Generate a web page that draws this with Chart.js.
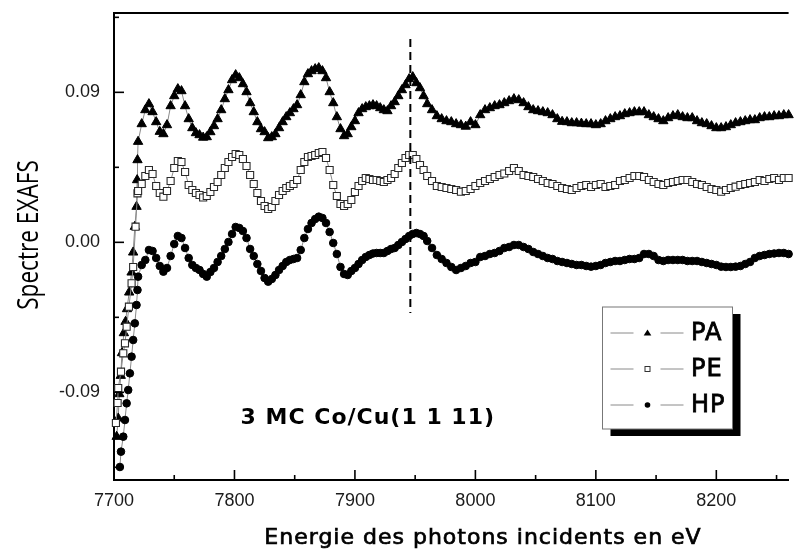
<!DOCTYPE html>
<html>
<head>
<meta charset="utf-8">
<script src="https://cdn.jsdelivr.net/npm/chart.js@4.4.1/dist/chart.umd.min.js"></script>
<style>
  html, body { margin:0; padding:0; background:#fff; }
  #wrap { width:795px; height:551px; }
</style>
</head>
<body>
<div id="wrap"><canvas id="c" width="795" height="551"></canvas></div>
<script>
/* EXAFS spectra, 3 MC Co/Cu(1 1 11) */

// ---- data (energies in eV, spectrum in arbitrary EXAFS units)
const gridEnergy = [
  7720,7723,7726,7729,7732,7735,7738,7741,7744,7747,
  7750,7753,7756,7759,7762,7765,7768,7771,7774,7777,
  7780,7783,7786,7789,7792,7795,7798,7801,7804,7807,
  7810,7813,7816,7819,7822,7825,7828,7831,7834,7837,
  7840,7843,7846,7849,7852,7855,7858,7861,7864,7867,
  7870,7873,7876,7879,7882,7885,7888,7891,7894,7897,
  7900,7903,7906,7909,7912,7915,7918,7921,7924,7927,
  7930,7933,7936,7939,7942,7945,7948,7951,7954,7957,
  7960,
  7964,7968,7972,7976,7980,7984,7988,7992,7996,8000,
  8004,8008,8012,8016,8020,8024,8028,8032,8036,8040,
  8044,8048,8052,8056,8060,8064,8068,8072,8076,8080,
  8084,8088,8092,8096,8100,8104,8108,8112,8116,8120,
  8124,8128,8132,8136,8140,8144,8148,8152,8156,8160,
  8164,8168,8172,8176,8180,8184,8188,8192,8196,8200,
  8204,8208,8212,8216,8220,8224,8228,8232,8236,8240,
  8244,8248,8252,8256,8260
];

// absorption edge (each series read separately)
const paEdgeEnergy = [7702.2,7703.5,7704.4,7705.6,7706.6,7708.2,7709.6,7710.8,7712.6,7714.6,7715.9,7717.3,7718.7,7719.2,7719.5];
const paEdge       = [-0.1166,-0.1056,-0.0910,-0.0800,-0.0664,-0.0544,-0.0476,-0.0400,-0.0300,-0.0180,-0.0060,0.0094,0.0214,0.0374,0.0494];
const peEdgeEnergy = [7701.6,7703.0,7703.5,7705.8,7707.7,7709.1,7710.5,7712.4,7714.6,7715.9,7717.9,7719.5];
const peEdge       = [-0.1084,-0.0964,-0.0874,-0.0776,-0.0666,-0.0606,-0.0506,-0.0386,-0.0246,-0.0148,0.0094,0.0294];
const hpEdgeEnergy = [7704.9,7705.8,7707.7,7709.1,7710.5,7711.8,7713.2,7714.6,7715.9,7717.3,7718.7,7719.5];
const hpEdge       = [-0.1348,-0.1256,-0.1166,-0.1066,-0.0966,-0.0886,-0.0786,-0.0686,-0.0586,-0.0486,-0.0376,-0.0286];

const paValues = [
  0.0604,0.0710,0.0794,0.0830,0.0782,0.0722,0.0664,0.0650,0.0704,0.0818,
  0.0878,0.0920,0.0908,0.0818,0.0740,0.0686,0.0656,0.0644,0.0629,0.0632,
  0.0662,0.0698,0.0740,0.0794,0.0860,0.0914,0.0974,0.1004,0.0986,0.0950,
  0.0902,0.0836,0.0782,0.0722,0.0680,0.0662,0.0626,0.0632,0.0650,0.0686,
  0.0722,0.0752,0.0776,0.0800,0.0824,0.0884,0.0962,0.1010,0.1028,0.1040,
  0.1046,0.1028,0.0986,0.0902,0.0836,0.0752,0.0680,0.0638,0.0650,0.0692,
  0.0728,0.0776,0.0800,0.0812,0.0818,0.0824,0.0818,0.0806,0.0794,0.0788,
  0.0818,0.0842,0.0878,0.0914,0.0944,0.0980,0.0992,0.0956,0.0926,0.0878,
  0.0830,
  0.0794,0.0758,0.0740,0.0728,0.0722,0.0710,0.0704,0.0695,0.0722,0.0704,
  0.0764,0.0794,0.0806,0.0818,0.0824,0.0836,0.0848,0.0860,0.0854,0.0836,
  0.0812,0.0794,0.0788,0.0782,0.0776,0.0764,0.0740,0.0724,0.0722,0.0716,
  0.0716,0.0713,0.0710,0.0710,0.0704,0.0710,0.0728,0.0740,0.0752,0.0758,
  0.0770,0.0776,0.0782,0.0782,0.0782,0.0764,0.0752,0.0740,0.0728,0.0746,
  0.0758,0.0764,0.0752,0.0746,0.0746,0.0728,0.0716,0.0710,0.0698,0.0686,
  0.0686,0.0692,0.0704,0.0716,0.0722,0.0728,0.0734,0.0734,0.0746,0.0752,
  0.0752,0.0758,0.0758,0.0764,0.0764
];

const peValues = [
  0.0308,0.0350,0.0398,0.0434,0.0410,0.0338,0.0296,0.0274,0.0308,0.0368,
  0.0446,0.0488,0.0482,0.0422,0.0344,0.0314,0.0296,0.0284,0.0269,0.0278,
  0.0302,0.0332,0.0362,0.0404,0.0446,0.0482,0.0512,0.0530,0.0524,0.0500,
  0.0458,0.0404,0.0350,0.0296,0.0248,0.0218,0.0200,0.0212,0.0248,0.0284,
  0.0308,0.0326,0.0338,0.0350,0.0374,0.0434,0.0482,0.0512,0.0518,0.0524,
  0.0536,0.0542,0.0506,0.0434,0.0344,0.0278,0.0230,0.0218,0.0230,0.0254,
  0.0302,0.0338,0.0368,0.0386,0.0380,0.0374,0.0374,0.0368,0.0362,0.0374,
  0.0386,0.0410,0.0446,0.0476,0.0506,0.0524,0.0524,0.0500,0.0464,0.0434,
  0.0398,
  0.0368,0.0338,0.0332,0.0326,0.0320,0.0314,0.0304,0.0308,0.0320,0.0338,
  0.0356,0.0368,0.0380,0.0392,0.0404,0.0413,0.0428,0.0446,0.0428,0.0404,
  0.0398,0.0392,0.0380,0.0368,0.0356,0.0350,0.0338,0.0326,0.0320,0.0314,
  0.0326,0.0338,0.0344,0.0332,0.0344,0.0350,0.0332,0.0338,0.0344,0.0368,
  0.0374,0.0386,0.0398,0.0398,0.0392,0.0374,0.0362,0.0350,0.0344,0.0356,
  0.0362,0.0368,0.0374,0.0374,0.0362,0.0350,0.0344,0.0332,0.0320,0.0314,
  0.0304,0.0314,0.0326,0.0334,0.0344,0.0350,0.0356,0.0362,0.0374,0.0368,
  0.0380,0.0386,0.0374,0.0386,0.0386
];

const hpValues = [
  -0.0206,-0.0136,-0.0106,-0.0046,-0.0052,-0.0094,-0.0142,-0.0176,-0.0154,-0.0082,
  -0.0010,0.0038,0.0026,-0.0034,-0.0094,-0.0136,-0.0154,-0.0166,-0.0190,-0.0206,
  -0.0178,-0.0154,-0.0118,-0.0082,-0.0040,0.0002,0.0050,0.0092,0.0086,0.0068,
  0.0026,-0.0040,-0.0082,-0.0130,-0.0172,-0.0214,-0.0236,-0.0220,-0.0196,-0.0166,
  -0.0142,-0.0118,-0.0106,-0.0100,-0.0094,-0.0046,0.0026,0.0080,0.0116,0.0140,
  0.0154,0.0146,0.0116,0.0062,-0.0004,-0.0070,-0.0148,-0.0190,-0.0196,-0.0172,
  -0.0154,-0.0130,-0.0106,-0.0088,-0.0076,-0.0067,-0.0064,-0.0064,-0.0064,-0.0052,
  -0.0040,-0.0034,-0.0016,0.0002,0.0020,0.0038,0.0050,0.0056,0.0050,0.0038,
  0.0008,
  -0.0034,-0.0076,-0.0100,-0.0124,-0.0148,-0.0166,-0.0154,-0.0142,-0.0124,-0.0118,
  -0.0088,-0.0082,-0.0070,-0.0064,-0.0052,-0.0034,-0.0028,-0.0016,-0.0016,-0.0028,
  -0.0040,-0.0058,-0.0070,-0.0082,-0.0094,-0.0100,-0.0112,-0.0118,-0.0124,-0.0130,
  -0.0136,-0.0136,-0.0142,-0.0146,-0.0142,-0.0136,-0.0124,-0.0118,-0.0112,-0.0112,
  -0.0106,-0.0100,-0.0100,-0.0094,-0.0070,-0.0070,-0.0082,-0.0106,-0.0112,-0.0106,
  -0.0106,-0.0106,-0.0106,-0.0112,-0.0112,-0.0112,-0.0118,-0.0124,-0.0130,-0.0136,
  -0.0146,-0.0148,-0.0148,-0.0146,-0.0142,-0.0130,-0.0118,-0.0094,-0.0082,-0.0076,
  -0.0070,-0.0067,-0.0064,-0.0064,-0.0070
];

// dashed marker line at the 2nd edge feature
const markerEnergy = 7946;
const markerRange  = [0.122, -0.0424];

// axes
const xRange = [7700, 8260];
const yRange = [-0.1426, 0.1376];
const xMajorTicks = [7700, 7800, 7900, 8000, 8100, 8200];
const xMinorTicks = [7750, 7850, 7950, 8050, 8150, 8250];
const yMajorTicks = [-0.09, 0.00, 0.09];
const yMinorTicks = [-0.135, -0.045, 0.045, 0.135];

const seriesNames = ['PA', 'PE', 'HP'];
const sampleLabel = '3 MC Co/Cu(1 1 11)';

const pts = (es, vs) => es.map((e, i) => ({x: e, y: vs[i]}));

const HAND = '"DejaVu Sans", sans-serif';
const LINE_GREY = '#8a8a8a';

function seriesStyle(kind){
  if(kind === 'PA') return {pointStyle:'triangle', pointRadius:5.4, pointBackgroundColor:'#000', pointBorderColor:'#000', pointBorderWidth:1};
  if(kind === 'PE') return {pointStyle:'rect', pointRadius:5, pointBackgroundColor:'#fff', pointBorderColor:'#2a2a2a', pointBorderWidth:1.1};
  return {pointStyle:'circle', pointRadius:3.8, pointBackgroundColor:'#000', pointBorderColor:'#000', pointBorderWidth:1};
}

function makeSeries(kind, edgeE, edgeV, vals){
  return Object.assign({
    label: kind,
    data: pts(edgeE, edgeV).concat(pts(gridEnergy, vals)),
    showLine: true,
    borderColor: LINE_GREY,
    borderWidth: 1,
    clip: 6,
  }, seriesStyle(kind));
}

function seg(ctx, x1, y1, x2, y2){ ctx.beginPath(); ctx.moveTo(x1, y1); ctx.lineTo(x2, y2); ctx.stroke(); }

// slightly heavier text, closer to the original marker-pen look
function heavyText(ctx, txt, x, y, w){
  ctx.fillText(txt, x, y);
  ctx.save(); ctx.lineWidth = w; ctx.strokeStyle = ctx.fillStyle; ctx.strokeText(txt, x, y); ctx.restore();
}

function legendMarker(ctx, kind, x, y){
  ctx.save();
  if(kind === 'PA'){
    ctx.fillStyle = '#000';
    ctx.beginPath(); ctx.moveTo(x, y-3.5); ctx.lineTo(x+3.8, y+2.5); ctx.lineTo(x-3.8, y+2.5); ctx.closePath(); ctx.fill();
  } else if(kind === 'PE'){
    ctx.fillStyle = '#fff'; ctx.strokeStyle = '#333'; ctx.lineWidth = 1;
    ctx.fillRect(x-3, y-3, 6, 6); ctx.strokeRect(x-2.5, y-2.5, 5, 5);
  } else {
    ctx.fillStyle = '#000';
    ctx.beginPath(); ctx.arc(x, y, 2.8, 0, Math.PI*2); ctx.fill();
  }
  ctx.restore();
}

const decor = {
  id: 'decor',
  afterDraw(chart){
    const {ctx, chartArea:a, scales:{x, y}} = chart;
    ctx.save();
    ctx.strokeStyle = '#000';

    // top frame line
    ctx.lineWidth = 2;
    seg(ctx, a.left, a.top, a.right, a.top);

    // inward ticks
    ctx.lineWidth = 1.6;
    xMajorTicks.forEach(v => { const p = x.getPixelForValue(v); seg(ctx, p, a.bottom, p, a.bottom - 10); });
    xMinorTicks.forEach(v => { const p = x.getPixelForValue(v); seg(ctx, p, a.bottom, p, a.bottom - 5); });
    yMajorTicks.forEach(v => { const p = y.getPixelForValue(v); seg(ctx, a.left, p, a.left + 10, p); });
    yMinorTicks.forEach(v => { const p = y.getPixelForValue(v); seg(ctx, a.left, p, a.left + 5, p); });

    // axis titles
    ctx.fillStyle = '#000';
    ctx.textAlign = 'center';
    ctx.textBaseline = 'middle';
    ctx.font = '22px ' + HAND;
    ctx.letterSpacing = '1px';
    heavyText(ctx, 'Energie des photons incidents en eV', 483, 538, 0.7);
    ctx.letterSpacing = '0px';

    ctx.save();
    ctx.translate(30, 235);
    ctx.rotate(-Math.PI/2);
    ctx.scale(0.78, 1);
    ctx.font = '29px "Open Sans", ' + HAND;
    ctx.fillText('Spectre EXAFS', 0, 0);
    ctx.restore();

    // sample label
    ctx.font = 'bold 22px ' + HAND;
    ctx.letterSpacing = '1px';
    ctx.fillText(sampleLabel, x.getPixelForValue(7910.7), y.getPixelForValue(-0.1054));
    ctx.letterSpacing = '0px';

    // legend box with drop shadow
    const bx = 602.5, by = 307, bw = 130, bh = 122;
    ctx.fillStyle = '#000';
    ctx.fillRect(bx + 8, by + 7, bw, bh);
    ctx.fillStyle = '#fff';
    ctx.fillRect(bx, by, bw, bh);
    ctx.strokeStyle = '#777';
    ctx.lineWidth = 1;
    ctx.strokeRect(bx, by, bw, bh);

    ctx.font = '24px ' + HAND;
    ctx.letterSpacing = '1px';
    ctx.textAlign = 'left';
    seriesNames.forEach((name, i) => {
      const ry = 333 + i * 36;
      ctx.strokeStyle = LINE_GREY; ctx.lineWidth = 1;
      seg(ctx, 610.5, ry, 633.5, ry);
      seg(ctx, 660.5, ry, 683.5, ry);
      legendMarker(ctx, name, 647.5, ry);
      ctx.fillStyle = '#000';
      heavyText(ctx, name, 691, ry + 1, 0.8);
    });
    ctx.letterSpacing = '0px';
    ctx.restore();
  }
};

const TICK_FONT = { family: '"Liberation Sans", Arial, sans-serif', size: 18 };

const ctx = document.getElementById('c').getContext('2d');
new Chart(ctx, {
  type: 'scatter',
  data: {
    datasets: [
      {
        label: 'edge marker',
        data: [{x: markerEnergy, y: markerRange[0]}, {x: markerEnergy, y: markerRange[1]}],
        showLine: true, pointRadius: 0, borderColor: '#000', borderWidth: 2, borderDash: [8, 5],
      },
      makeSeries('HP', hpEdgeEnergy, hpEdge, hpValues),
      makeSeries('PE', peEdgeEnergy, peEdge, peValues),
      makeSeries('PA', paEdgeEnergy, paEdge, paValues),
    ]
  },
  options: {
    responsive: false,
    animation: false,
    devicePixelRatio: 1,
    layout: { padding: { top: 13, right: 0, left: 0, bottom: 0 } },
    plugins: { legend: { display: false }, tooltip: { enabled: false } },
    scales: {
      x: {
        type: 'linear', min: xRange[0], max: xRange[1],
        afterBuildTicks: s => { s.ticks = xMajorTicks.map(v => ({value: v})); },
        afterFit: s => { s.height = 71; s.paddingLeft = 0; s.paddingRight = 0; },
        grid: { display: false, drawTicks: false },
        border: { display: true, color: '#000', width: 2 },
        ticks: { color: '#1a1a1a', padding: 10, font: TICK_FONT, maxRotation: 0, autoSkip: false,
                 callback: v => String(v) },
      },
      y: {
        type: 'linear', min: yRange[0], max: yRange[1],
        afterBuildTicks: s => { s.ticks = yMajorTicks.map(v => ({value: v})); },
        afterFit: s => { s.width = 114; s.paddingTop = 0; s.paddingBottom = 0; },
        grid: { display: false, drawTicks: false },
        border: { display: true, color: '#000', width: 2 },
        ticks: { color: '#1a1a1a', padding: 14, font: TICK_FONT,
                 callback: v => v.toFixed(2) },
      }
    }
  },
  plugins: [decor]
});
</script>
</body>
</html>
